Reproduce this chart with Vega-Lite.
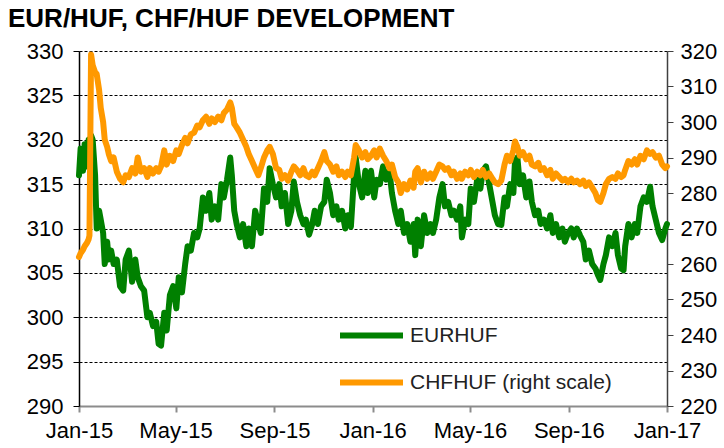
{
  "$schema": "https://vega.github.io/schema/vega-lite/v6.json",
  "width": 588,
  "height": 355,
  "autosize": {"type": "none"},
  "padding": {"left": 79, "top": 51, "right": 57, "bottom": 42},
  "background": "white",
  "title": {
    "text": "EUR/HUF, CHF/HUF DEVELOPMENT",
    "anchor": "start",
    "frame": "group",
    "dx": -71,
    "offset": 8,
    "font": "Liberation Sans",
    "fontSize": 26,
    "fontWeight": "bold",
    "color": "#000000"
  },
  "config": {
    "view": {"stroke": null},
    "axis": {
      "labelFont": "Liberation Sans",
      "labelFontSize": 22,
      "labelColor": "#000000",
      "titleFont": "Liberation Sans"
    }
  },
  "data": {
    "values": [
      {"d": "2015-01-01", "EURHUF": 316, "CHFHUF": 262},
      {"d": "2015-01-03", "EURHUF": 319, "CHFHUF": 263},
      {"d": "2015-01-06", "EURHUF": 316.5, "CHFHUF": 264},
      {"d": "2015-01-08", "EURHUF": 319.5, "CHFHUF": 265},
      {"d": "2015-01-11", "EURHUF": 317, "CHFHUF": 266},
      {"d": "2015-01-13", "EURHUF": 320, "CHFHUF": 267},
      {"d": "2015-01-14", "EURHUF": 319.5, "CHFHUF": 268},
      {"d": "2015-01-16", "EURHUF": 320.5, "CHFHUF": 319},
      {"d": "2015-01-18", "EURHUF": 320, "CHFHUF": 316},
      {"d": "2015-01-21", "EURHUF": 316, "CHFHUF": 314},
      {"d": "2015-01-23", "EURHUF": 310, "CHFHUF": 313.5},
      {"d": "2015-01-26", "EURHUF": 312, "CHFHUF": 309},
      {"d": "2015-01-28", "EURHUF": 311, "CHFHUF": 304},
      {"d": "2015-01-31", "EURHUF": 309.5, "CHFHUF": 300},
      {"d": "2015-02-02", "EURHUF": 306, "CHFHUF": 295},
      {"d": "2015-02-05", "EURHUF": 308.5, "CHFHUF": 293},
      {"d": "2015-02-07", "EURHUF": 306.5, "CHFHUF": 291},
      {"d": "2015-02-10", "EURHUF": 307.5, "CHFHUF": 289},
      {"d": "2015-02-13", "EURHUF": 306, "CHFHUF": 290},
      {"d": "2015-02-17", "EURHUF": 306.5, "CHFHUF": 286},
      {"d": "2015-02-21", "EURHUF": 303.5, "CHFHUF": 284},
      {"d": "2015-02-25", "EURHUF": 303, "CHFHUF": 283},
      {"d": "2015-02-28", "EURHUF": 306.5, "CHFHUF": 285},
      {"d": "2015-03-04", "EURHUF": 307.5, "CHFHUF": 284.5},
      {"d": "2015-03-08", "EURHUF": 304, "CHFHUF": 287},
      {"d": "2015-03-12", "EURHUF": 306.5, "CHFHUF": 285.5},
      {"d": "2015-03-15", "EURHUF": 304.5, "CHFHUF": 290},
      {"d": "2015-03-19", "EURHUF": 303.5, "CHFHUF": 286},
      {"d": "2015-03-23", "EURHUF": 303, "CHFHUF": 287},
      {"d": "2015-03-27", "EURHUF": 300, "CHFHUF": 284.5},
      {"d": "2015-03-30", "EURHUF": 300.5, "CHFHUF": 287},
      {"d": "2015-04-03", "EURHUF": 299, "CHFHUF": 285.5},
      {"d": "2015-04-07", "EURHUF": 299.5, "CHFHUF": 287},
      {"d": "2015-04-10", "EURHUF": 297, "CHFHUF": 286},
      {"d": "2015-04-13", "EURHUF": 296.8, "CHFHUF": 287.5},
      {"d": "2015-04-17", "EURHUF": 300.5, "CHFHUF": 292},
      {"d": "2015-04-20", "EURHUF": 298.5, "CHFHUF": 288},
      {"d": "2015-04-24", "EURHUF": 302.5, "CHFHUF": 290.5},
      {"d": "2015-04-28", "EURHUF": 303.5, "CHFHUF": 289},
      {"d": "2015-05-02", "EURHUF": 301, "CHFHUF": 292},
      {"d": "2015-05-05", "EURHUF": 304.5, "CHFHUF": 291},
      {"d": "2015-05-09", "EURHUF": 302.8, "CHFHUF": 293.5},
      {"d": "2015-05-13", "EURHUF": 306, "CHFHUF": 295.5},
      {"d": "2015-05-16", "EURHUF": 308, "CHFHUF": 294},
      {"d": "2015-05-20", "EURHUF": 307.5, "CHFHUF": 296.5},
      {"d": "2015-05-24", "EURHUF": 309.5, "CHFHUF": 297},
      {"d": "2015-05-28", "EURHUF": 309, "CHFHUF": 299},
      {"d": "2015-05-31", "EURHUF": 310, "CHFHUF": 298.5},
      {"d": "2015-06-04", "EURHUF": 313.5, "CHFHUF": 300.5},
      {"d": "2015-06-08", "EURHUF": 312, "CHFHUF": 301.5},
      {"d": "2015-06-12", "EURHUF": 314, "CHFHUF": 299.5},
      {"d": "2015-06-15", "EURHUF": 311, "CHFHUF": 301},
      {"d": "2015-06-19", "EURHUF": 312.5, "CHFHUF": 300},
      {"d": "2015-06-23", "EURHUF": 311, "CHFHUF": 301.5},
      {"d": "2015-06-27", "EURHUF": 315, "CHFHUF": 300.5},
      {"d": "2015-06-30", "EURHUF": 313.5, "CHFHUF": 302.5},
      {"d": "2015-07-04", "EURHUF": 315.5, "CHFHUF": 303.5},
      {"d": "2015-07-08", "EURHUF": 318, "CHFHUF": 305.5},
      {"d": "2015-07-10", "EURHUF": 316, "CHFHUF": 304},
      {"d": "2015-07-13", "EURHUF": 312, "CHFHUF": 299.5},
      {"d": "2015-07-16", "EURHUF": 310.5, "CHFHUF": 298.5},
      {"d": "2015-07-20", "EURHUF": 309, "CHFHUF": 297},
      {"d": "2015-07-24", "EURHUF": 310.5, "CHFHUF": 295},
      {"d": "2015-07-28", "EURHUF": 308, "CHFHUF": 293},
      {"d": "2015-07-31", "EURHUF": 310, "CHFHUF": 291},
      {"d": "2015-08-04", "EURHUF": 308, "CHFHUF": 289},
      {"d": "2015-08-08", "EURHUF": 312, "CHFHUF": 287},
      {"d": "2015-08-12", "EURHUF": 310.5, "CHFHUF": 285},
      {"d": "2015-08-15", "EURHUF": 309.5, "CHFHUF": 287},
      {"d": "2015-08-19", "EURHUF": 314.5, "CHFHUF": 290},
      {"d": "2015-08-23", "EURHUF": 313, "CHFHUF": 292},
      {"d": "2015-08-26", "EURHUF": 316.8, "CHFHUF": 293},
      {"d": "2015-08-30", "EURHUF": 315, "CHFHUF": 291},
      {"d": "2015-09-03", "EURHUF": 313.5, "CHFHUF": 287},
      {"d": "2015-09-07", "EURHUF": 315, "CHFHUF": 286.5},
      {"d": "2015-09-10", "EURHUF": 312.5, "CHFHUF": 284},
      {"d": "2015-09-14", "EURHUF": 314, "CHFHUF": 285},
      {"d": "2015-09-18", "EURHUF": 310.5, "CHFHUF": 283.5},
      {"d": "2015-09-22", "EURHUF": 312, "CHFHUF": 286},
      {"d": "2015-09-25", "EURHUF": 315.3, "CHFHUF": 287.5},
      {"d": "2015-09-29", "EURHUF": 313, "CHFHUF": 286.5},
      {"d": "2015-10-03", "EURHUF": 311.5, "CHFHUF": 285},
      {"d": "2015-10-07", "EURHUF": 310.5, "CHFHUF": 287},
      {"d": "2015-10-10", "EURHUF": 311, "CHFHUF": 285},
      {"d": "2015-10-14", "EURHUF": 309.3, "CHFHUF": 284.5},
      {"d": "2015-10-18", "EURHUF": 310.5, "CHFHUF": 286},
      {"d": "2015-10-21", "EURHUF": 312, "CHFHUF": 285},
      {"d": "2015-10-25", "EURHUF": 310.5, "CHFHUF": 287},
      {"d": "2015-10-29", "EURHUF": 312.5, "CHFHUF": 289},
      {"d": "2015-11-02", "EURHUF": 313, "CHFHUF": 291.5},
      {"d": "2015-11-05", "EURHUF": 315.5, "CHFHUF": 289},
      {"d": "2015-11-09", "EURHUF": 314, "CHFHUF": 288},
      {"d": "2015-11-13", "EURHUF": 311.5, "CHFHUF": 286},
      {"d": "2015-11-17", "EURHUF": 312.5, "CHFHUF": 287.5},
      {"d": "2015-11-20", "EURHUF": 311, "CHFHUF": 285},
      {"d": "2015-11-24", "EURHUF": 312, "CHFHUF": 286},
      {"d": "2015-11-28", "EURHUF": 310, "CHFHUF": 284.5},
      {"d": "2015-12-01", "EURHUF": 311.5, "CHFHUF": 286},
      {"d": "2015-12-05", "EURHUF": 310.2, "CHFHUF": 285},
      {"d": "2015-12-09", "EURHUF": 316, "CHFHUF": 290},
      {"d": "2015-12-11", "EURHUF": 318, "CHFHUF": 293.5},
      {"d": "2015-12-15", "EURHUF": 315, "CHFHUF": 292},
      {"d": "2015-12-19", "EURHUF": 313.5, "CHFHUF": 290},
      {"d": "2015-12-23", "EURHUF": 316.5, "CHFHUF": 291.5},
      {"d": "2015-12-26", "EURHUF": 314, "CHFHUF": 289.5},
      {"d": "2015-12-30", "EURHUF": 316.5, "CHFHUF": 290.5},
      {"d": "2016-01-03", "EURHUF": 313.5, "CHFHUF": 292},
      {"d": "2016-01-06", "EURHUF": 315.5, "CHFHUF": 290},
      {"d": "2016-01-10", "EURHUF": 315, "CHFHUF": 292.5},
      {"d": "2016-01-14", "EURHUF": 317, "CHFHUF": 290.5},
      {"d": "2016-01-18", "EURHUF": 315.5, "CHFHUF": 289},
      {"d": "2016-01-22", "EURHUF": 316.5, "CHFHUF": 287},
      {"d": "2016-01-25", "EURHUF": 314, "CHFHUF": 288},
      {"d": "2016-01-29", "EURHUF": 312, "CHFHUF": 284.5},
      {"d": "2016-02-02", "EURHUF": 310.5, "CHFHUF": 283},
      {"d": "2016-02-05", "EURHUF": 312, "CHFHUF": 280},
      {"d": "2016-02-09", "EURHUF": 309.5, "CHFHUF": 282.5},
      {"d": "2016-02-13", "EURHUF": 310.5, "CHFHUF": 281},
      {"d": "2016-02-17", "EURHUF": 308.5, "CHFHUF": 283.5},
      {"d": "2016-02-21", "EURHUF": 310.5, "CHFHUF": 281.5},
      {"d": "2016-02-23", "EURHUF": 307, "CHFHUF": 286},
      {"d": "2016-02-26", "EURHUF": 311, "CHFHUF": 287},
      {"d": "2016-03-01", "EURHUF": 308, "CHFHUF": 283},
      {"d": "2016-03-05", "EURHUF": 311.5, "CHFHUF": 286},
      {"d": "2016-03-09", "EURHUF": 309.5, "CHFHUF": 284},
      {"d": "2016-03-13", "EURHUF": 310.5, "CHFHUF": 285.5},
      {"d": "2016-03-16", "EURHUF": 309.5, "CHFHUF": 284},
      {"d": "2016-03-20", "EURHUF": 311, "CHFHUF": 286},
      {"d": "2016-03-24", "EURHUF": 313.5, "CHFHUF": 288},
      {"d": "2016-03-28", "EURHUF": 315, "CHFHUF": 287.5},
      {"d": "2016-03-31", "EURHUF": 312.5, "CHFHUF": 286.5},
      {"d": "2016-04-04", "EURHUF": 313, "CHFHUF": 287},
      {"d": "2016-04-08", "EURHUF": 311.5, "CHFHUF": 285},
      {"d": "2016-04-11", "EURHUF": 312, "CHFHUF": 286},
      {"d": "2016-04-15", "EURHUF": 311, "CHFHUF": 284},
      {"d": "2016-04-19", "EURHUF": 312.5, "CHFHUF": 285.5},
      {"d": "2016-04-21", "EURHUF": 309, "CHFHUF": 284},
      {"d": "2016-04-25", "EURHUF": 311, "CHFHUF": 286},
      {"d": "2016-04-29", "EURHUF": 310.5, "CHFHUF": 285},
      {"d": "2016-05-02", "EURHUF": 314.5, "CHFHUF": 286.5},
      {"d": "2016-05-06", "EURHUF": 313, "CHFHUF": 284.5},
      {"d": "2016-05-10", "EURHUF": 315.5, "CHFHUF": 286},
      {"d": "2016-05-14", "EURHUF": 314.5, "CHFHUF": 285},
      {"d": "2016-05-17", "EURHUF": 316.5, "CHFHUF": 286.5},
      {"d": "2016-05-21", "EURHUF": 317, "CHFHUF": 284.5},
      {"d": "2016-05-25", "EURHUF": 315, "CHFHUF": 285.5},
      {"d": "2016-05-29", "EURHUF": 313, "CHFHUF": 284},
      {"d": "2016-06-01", "EURHUF": 311.5, "CHFHUF": 283},
      {"d": "2016-06-05", "EURHUF": 310.5, "CHFHUF": 282.5},
      {"d": "2016-06-09", "EURHUF": 310.4, "CHFHUF": 283.5},
      {"d": "2016-06-13", "EURHUF": 313.5, "CHFHUF": 288},
      {"d": "2016-06-16", "EURHUF": 312.5, "CHFHUF": 290.5},
      {"d": "2016-06-20", "EURHUF": 315, "CHFHUF": 289},
      {"d": "2016-06-24", "EURHUF": 314, "CHFHUF": 292},
      {"d": "2016-06-26", "EURHUF": 317.5, "CHFHUF": 294.5},
      {"d": "2016-06-29", "EURHUF": 318, "CHFHUF": 293},
      {"d": "2016-07-02", "EURHUF": 315, "CHFHUF": 290.5},
      {"d": "2016-07-06", "EURHUF": 316, "CHFHUF": 291.5},
      {"d": "2016-07-10", "EURHUF": 313.5, "CHFHUF": 289.5},
      {"d": "2016-07-14", "EURHUF": 315.3, "CHFHUF": 290.5},
      {"d": "2016-07-17", "EURHUF": 313, "CHFHUF": 288},
      {"d": "2016-07-21", "EURHUF": 311.5, "CHFHUF": 287.5},
      {"d": "2016-07-25", "EURHUF": 312, "CHFHUF": 288.5},
      {"d": "2016-07-28", "EURHUF": 310.5, "CHFHUF": 286.5},
      {"d": "2016-08-01", "EURHUF": 311, "CHFHUF": 287},
      {"d": "2016-08-05", "EURHUF": 310, "CHFHUF": 285},
      {"d": "2016-08-09", "EURHUF": 311.5, "CHFHUF": 286.5},
      {"d": "2016-08-12", "EURHUF": 309.5, "CHFHUF": 284},
      {"d": "2016-08-16", "EURHUF": 310.5, "CHFHUF": 285.5},
      {"d": "2016-08-20", "EURHUF": 309, "CHFHUF": 284.5},
      {"d": "2016-08-24", "EURHUF": 310, "CHFHUF": 283.5},
      {"d": "2016-08-27", "EURHUF": 308.5, "CHFHUF": 284},
      {"d": "2016-08-31", "EURHUF": 309.5, "CHFHUF": 283},
      {"d": "2016-09-04", "EURHUF": 310, "CHFHUF": 284},
      {"d": "2016-09-07", "EURHUF": 309, "CHFHUF": 283},
      {"d": "2016-09-11", "EURHUF": 310, "CHFHUF": 283.5},
      {"d": "2016-09-15", "EURHUF": 309.2, "CHFHUF": 282.5},
      {"d": "2016-09-19", "EURHUF": 308.5, "CHFHUF": 283.5},
      {"d": "2016-09-22", "EURHUF": 306.5, "CHFHUF": 282},
      {"d": "2016-09-26", "EURHUF": 307.5, "CHFHUF": 283},
      {"d": "2016-09-30", "EURHUF": 306, "CHFHUF": 281.5},
      {"d": "2016-10-04", "EURHUF": 305.5, "CHFHUF": 280},
      {"d": "2016-10-07", "EURHUF": 304.8, "CHFHUF": 278},
      {"d": "2016-10-10", "EURHUF": 304.2, "CHFHUF": 277.5},
      {"d": "2016-10-14", "EURHUF": 306, "CHFHUF": 280},
      {"d": "2016-10-17", "EURHUF": 307, "CHFHUF": 282.5},
      {"d": "2016-10-21", "EURHUF": 309, "CHFHUF": 284},
      {"d": "2016-10-25", "EURHUF": 308, "CHFHUF": 284.5},
      {"d": "2016-10-29", "EURHUF": 309.5, "CHFHUF": 284},
      {"d": "2016-11-01", "EURHUF": 307, "CHFHUF": 285.5},
      {"d": "2016-11-05", "EURHUF": 305.5, "CHFHUF": 284.5},
      {"d": "2016-11-08", "EURHUF": 305.3, "CHFHUF": 285},
      {"d": "2016-11-10", "EURHUF": 308, "CHFHUF": 286.5},
      {"d": "2016-11-14", "EURHUF": 310.5, "CHFHUF": 289},
      {"d": "2016-11-18", "EURHUF": 309, "CHFHUF": 288},
      {"d": "2016-11-22", "EURHUF": 310.5, "CHFHUF": 289.5},
      {"d": "2016-11-25", "EURHUF": 309.5, "CHFHUF": 288},
      {"d": "2016-11-29", "EURHUF": 312.5, "CHFHUF": 290.5},
      {"d": "2016-12-03", "EURHUF": 313.5, "CHFHUF": 289.5},
      {"d": "2016-12-07", "EURHUF": 313, "CHFHUF": 292},
      {"d": "2016-12-11", "EURHUF": 314.7, "CHFHUF": 291},
      {"d": "2016-12-14", "EURHUF": 312.5, "CHFHUF": 291.5},
      {"d": "2016-12-18", "EURHUF": 311, "CHFHUF": 290},
      {"d": "2016-12-22", "EURHUF": 309.5, "CHFHUF": 290.5},
      {"d": "2016-12-26", "EURHUF": 308.7, "CHFHUF": 288},
      {"d": "2016-12-30", "EURHUF": 310, "CHFHUF": 287},
      {"d": "2017-01-01", "EURHUF": 310.5, "CHFHUF": 287.5}
    ]
  },
  "encoding": {
    "x": {
      "field": "d",
      "type": "temporal",
      "title": null,
      "scale": {"domain": [{"year": 2015, "month": 1, "date": 1, "utc": true}, {"year": 2017, "month": 1, "date": 1, "utc": true}]},
      "axis": {
        "values": [
          {"year": 2015, "month": 1, "date": 1, "utc": true},
          {"year": 2015, "month": 5, "date": 1, "utc": true},
          {"year": 2015, "month": 9, "date": 1, "utc": true},
          {"year": 2016, "month": 1, "date": 1, "utc": true},
          {"year": 2016, "month": 5, "date": 1, "utc": true},
          {"year": 2016, "month": 9, "date": 1, "utc": true},
          {"year": 2017, "month": 1, "date": 1, "utc": true}
        ],
        "labelExpr": "utcFormat(datum.value, '%b-%y')",
        "grid": false,
        "domainColor": "#8c8c8c",
        "domainWidth": 2,
        "tickColor": "#8c8c8c",
        "tickWidth": 2,
        "tickSize": 6,
        "labelPadding": 8,
        "labelFlush": false,
        "labelOverlap": false
      }
    }
  },
  "layer": [
    {
      "mark": {"type": "line", "strokeWidth": 6, "strokeJoin": "round", "strokeCap": "round"},
      "encoding": {
        "y": {
          "field": "EURHUF",
          "type": "quantitative",
          "title": null,
          "scale": {"domain": [290, 330], "zero": false, "nice": false},
          "axis": {
            "orient": "left",
            "values": [290, 295, 300, 305, 310, 315, 320, 325, 330],
            "grid": true,
            "gridColor": "#000000",
            "gridDash": [3, 2],
            "gridWidth": 1,
            "domainColor": "#000000",
            "domainWidth": 1.5,
            "tickColor": "#000000",
            "tickSize": 6,
            "labelPadding": 10
          }
        },
        "color": {
          "datum": "EURHUF",
          "type": "nominal",
          "scale": {"domain": ["EURHUF", "CHFHUF (right scale)"], "range": ["#008000", "#FF9900"]},
          "legend": {
            "orient": "none",
            "legendX": 258,
            "legendY": 250,
            "title": null,
            "symbolType": "stroke",
            "symbolSize": 3969,
            "symbolStrokeWidth": 6,
            "labelFont": "Liberation Sans",
            "labelFontSize": 21,
            "labelColor": "#222222",
            "labelOffset": 4,
            "labelLimit": 400,
            "rowPadding": -21,
            "padding": 0
          }
        }
      }
    },
    {
      "mark": {"type": "line", "strokeWidth": 6, "strokeJoin": "round", "strokeCap": "round"},
      "encoding": {
        "y": {
          "field": "CHFHUF",
          "type": "quantitative",
          "title": null,
          "scale": {"domain": [220, 320], "zero": false, "nice": false},
          "axis": {
            "orient": "right",
            "values": [220, 230, 240, 250, 260, 270, 280, 290, 300, 310, 320],
            "grid": false,
            "domainColor": "#404040",
            "domainWidth": 1.5,
            "tickColor": "#404040",
            "tickSize": 6,
            "labelPadding": 7
          }
        },
        "color": {"datum": "CHFHUF (right scale)", "type": "nominal"}
      }
    }
  ],
  "resolve": {"scale": {"y": "independent"}}
}
